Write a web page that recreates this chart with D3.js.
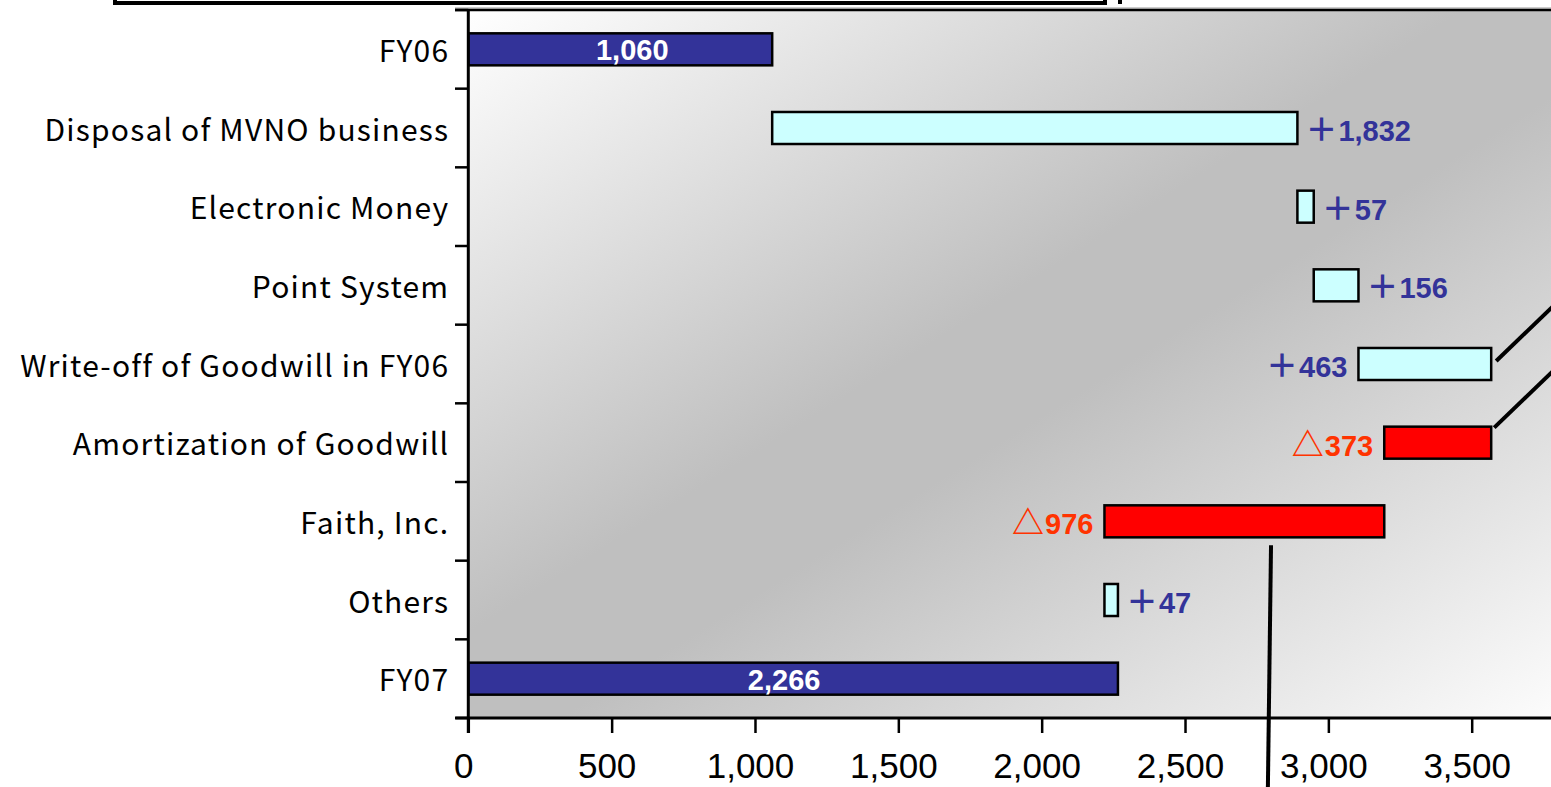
<!DOCTYPE html>
<html><head><meta charset="utf-8">
<script src="https://cdn.jsdelivr.net/npm/d3@7"></script>
<style>body{margin:0;background:#fff;overflow:hidden} svg{display:block}</style>
</head><body><svg id="c" width="1551" height="787"></svg>
<script>
const categories = ["FY06","Disposal of MVNO business","Electronic Money","Point System","Write-off of Goodwill in FY06","Amortization of Goodwill","Faith, Inc.","Others","FY07"];
const changes = [1060, 1832, 57, 156, 463, -373, -976, 47, 2266];
const kinds = ["total","up","up","up","up","down","down","up","total"];
const valueLabels = ["1,060","＋1,832","＋57","＋156","＋463","△373","△976","＋47","2,266"];
const labelSides = ["inside","right","right","right","left","left","left","right","inside"];
const xTicks = [0,500,1000,1500,2000,2500,3000,3500];

const W = 1551, H = 787;
const pLeft = 468.3, pTop = 10, pBottom = 718, pRight = 1600;
const svg = d3.select("#c");

// compute waterfall segments
let run = 0;
const segs = changes.map((v,i) => {
  if (kinds[i] === "total") { run = v; return {a:0, b:v}; }
  const a = run; run += v;
  return {a: Math.min(a, run), b: Math.max(a, run)};
});

const x = d3.scaleLinear().domain([0,3500]).range([pLeft, 1471.7]);
const y = d3.scaleBand().domain(categories).range([pTop, pBottom]).paddingInner(0.593).paddingOuter(0.2965);
const step = y.step();
const off = (step - y.bandwidth())/2;

// title box remnant
svg.append("rect").attr("x",115).attr("y",-60).attr("width",990).attr("height",63)
  .attr("fill","#fff").attr("stroke","#000").attr("stroke-width",4);
svg.append("rect").attr("x",1118).attr("y",0).attr("width",4).attr("height",4).attr("fill","#000");

// background gradient
const defs = svg.append("defs");
const g = defs.append("linearGradient").attr("id","bg").attr("x1",0).attr("y1",0).attr("x2",1).attr("y2",1);
g.append("stop").attr("offset","0%").attr("stop-color","#ffffff");
g.append("stop").attr("offset","44%").attr("stop-color","#bfbfbf");
g.append("stop").attr("offset","54%").attr("stop-color","#bfbfbf");
g.append("stop").attr("offset","100%").attr("stop-color","#ffffff");
svg.append("rect").attr("x",pLeft).attr("y",pTop).attr("width",pRight-pLeft).attr("height",pBottom-pTop).attr("fill","url(#bg)");

// top border
svg.append("line").attr("x1",455).attr("x2",W).attr("y1",pTop-2).attr("y2",pTop-2).attr("stroke","#999").attr("stroke-width",1);
svg.append("line").attr("x1",455).attr("x2",W).attr("y1",pTop).attr("y2",pTop).attr("stroke","#000").attr("stroke-width",2.5);

// category boundary ticks
const bounds = categories.map(c => y(c) - off).concat([pBottom]);
svg.append("g").selectAll("line").data(bounds).join("line")
  .attr("x1",455).attr("x2",pLeft).attr("y1",d=>d).attr("y2",d=>d)
  .attr("stroke","#000").attr("stroke-width",2.5);

// bars
const colorOf = k => k === "total" ? "#333399" : (k === "up" ? "#CCFFFF" : "#FF0000");
svg.append("g").selectAll("rect").data(categories).join("rect")
  .attr("x",(c,i)=>x(segs[i].a)).attr("width",(c,i)=>x(segs[i].b)-x(segs[i].a))
  .attr("y",c=>y(c)).attr("height",y.bandwidth())
  .attr("fill",(c,i)=>colorOf(kinds[i])).attr("stroke","#000").attr("stroke-width",2.5);

// axes lines
svg.append("line").attr("x1",pLeft).attr("x2",pLeft).attr("y1",pTop-1).attr("y2",pBottom+15).attr("stroke","#000").attr("stroke-width",3);
svg.append("line").attr("x1",pLeft-13).attr("x2",W).attr("y1",pBottom).attr("y2",pBottom).attr("stroke","#000").attr("stroke-width",3);

// x axis
const xa = svg.append("g").attr("transform",`translate(0,${pBottom})`)
  .call(d3.axisBottom(x).tickValues(xTicks).tickSize(15).tickSizeOuter(0).tickFormat(d3.format(",")));
xa.select(".domain").remove();
xa.selectAll(".tick line").attr("stroke","#000").attr("stroke-width",2.5);
xa.selectAll(".tick text").attr("fill","#000").attr("font-family","'Liberation Sans', Arial, sans-serif")
  .attr("font-size",35).attr("y",60).attr("dy",0).attr("x",-5);

// category labels
const ya = svg.append("g").attr("transform",`translate(${pLeft},0)`)
  .call(d3.axisLeft(y).tickSize(0).tickPadding(19));
ya.select(".domain").remove();
ya.selectAll(".tick text").attr("fill","#000").attr("font-family","'Noto Sans CJK JP', sans-serif")
  .attr("font-size",30).attr("letter-spacing","1.2px").attr("dy","0.42em");

// value labels
function inside(s){ return s === "inside"; }
const lab = svg.append("g");
categories.forEach((c,i) => {
  const side = labelSides[i];
  const txt = valueLabels[i];
  const cy = y(c) + y.bandwidth()/2 + 13;
  let tx, anchor, fill;
  if (side === "inside") { tx = (x(segs[i].a)+x(segs[i].b))/2 + (i === 0 ? 12 : -9); anchor = "middle"; fill = "#fff"; }
  else if (side === "right") { tx = x(segs[i].b) + 8; anchor = "start"; }
  else { tx = x(segs[i].a) - 11; anchor = "end"; }
  if (!fill) fill = kinds[i] === "down" ? "#FF3300" : "#333399";
  const t = lab.append("text").attr("x",tx).attr("y",inside(side) ? cy - 2 : cy).attr("text-anchor",anchor).attr("fill",fill)
    .attr("font-family","'Liberation Sans', Arial, sans-serif").attr("font-weight","bold").attr("font-size",29);
  const first = txt[0];
  if (first === "＋" || first === "△") {
    t.append("tspan").attr("font-family","'Noto Sans CJK JP', sans-serif").attr("font-weight","bold").attr("font-size",32).text(first);
    t.append("tspan").attr("dx",1).text(txt.slice(1));
  } else t.text(txt);
});

// callout lines
const iW = categories.indexOf("Write-off of Goodwill in FY06");
const iA = categories.indexOf("Amortization of Goodwill");
const iF = categories.indexOf("Faith, Inc.");
const yW = y(categories[iW]) + y.bandwidth()/2;
const yA = y(categories[iA]);
const xW = x(segs[iW].b) + 5, xA = x(segs[iA].b) + 3;
svg.append("line").attr("x1",xW).attr("y1",yW-3).attr("x2",xW+80).attr("y2",yW-3-77).attr("stroke","#000").attr("stroke-width",4);
svg.append("line").attr("x1",xA).attr("y1",yA+1).attr("x2",xA+80).attr("y2",yA+1-77).attr("stroke","#000").attr("stroke-width",4);
const yF = y(categories[iF]) + y.bandwidth() + 8;
svg.append("line").attr("x1",x(2800)).attr("y1",yF).attr("x2",x(2789)).attr("y2",H+2).attr("stroke","#000").attr("stroke-width",4);
</script></body></html>
